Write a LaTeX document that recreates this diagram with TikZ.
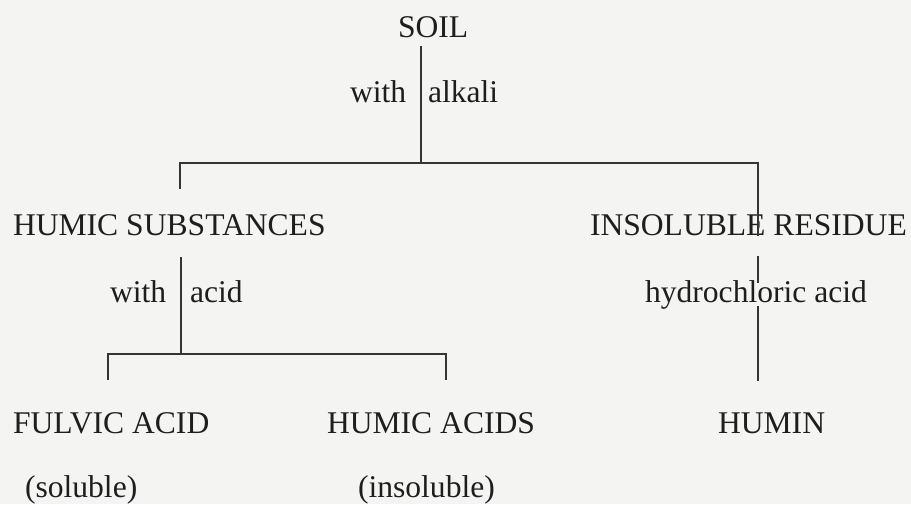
\documentclass[tikz,border=0pt]{standalone}
\usepackage{fontspec}
\setmainfont{Liberation Serif}
\definecolor{ink}{HTML}{1E1E1E}
\definecolor{bg}{HTML}{F4F4F3}
\begin{document}
\begin{tikzpicture}[x=1pt,y=-1pt,
  lbl/.style={anchor=base west,inner sep=0pt,outer sep=0pt,text=ink,font=\fontsize{31.6}{38}\selectfont},
  conn/.style={draw=ink!90,line width=1.5pt,line cap=rect}]
\fill[bg] (0,0) rectangle (911,504);
\useasboundingbox (0,0) rectangle (911,504);
% nodes
\node[lbl] (soil) at (398,37) {SOIL};
\node[lbl] (w1) at (350,102) {with};
\node[lbl] (alk) at (428,102) {alkali};
\node[lbl] (hs) at (13,235) {HUMIC SUBSTANCES};
\node[lbl] (ir) at (590,235) {INSOLUBLE RESIDUE};
\node[lbl] (w2) at (110,302) {with};
\node[lbl] (acid) at (190,302) {acid};
\node[lbl] (hcl) at (645,302) {hydrochloric acid};
\node[lbl] (fa) at (13,433) {FULVIC ACID};
\node[lbl] (ha) at (327,433) {HUMIC ACIDS};
\node[lbl] (humin) at (718,433) {HUMIN};
\node[lbl] (sol) at (25,497) {(soluble)};
\node[lbl] (insol) at (358,497) {(insoluble)};
% junction coordinates
\coordinate (a0) at (421,47);
\coordinate (a1) at (421,163);
\coordinate (aL) at (180,163);
\coordinate (aLd) at (180,188);
\coordinate (aR) at (758,163);
\coordinate (aRd) at (758,235);
\coordinate (b0) at (181,258);
\coordinate (b1) at (181,354);
\coordinate (bL) at (108,354);
\coordinate (bLd) at (108,379);
\coordinate (bR) at (446,354);
\coordinate (bRd) at (446,379);
\coordinate (c0) at (758,257);
\coordinate (c1) at (758,282);
\coordinate (c2) at (758,307);
\coordinate (c3) at (758,380);
% connectors
\draw[conn] (a0) -- (a1);
\draw[conn] (aLd) -- (aL) -- (aR) -- (aRd);
\draw[conn] (b0) -- (b1);
\draw[conn] (bLd) -- (bL) -- (bR) -- (bRd);
\draw[conn] (c0) -- (c1);
\draw[conn] (c2) -- (c3);
\end{tikzpicture}
\end{document}
